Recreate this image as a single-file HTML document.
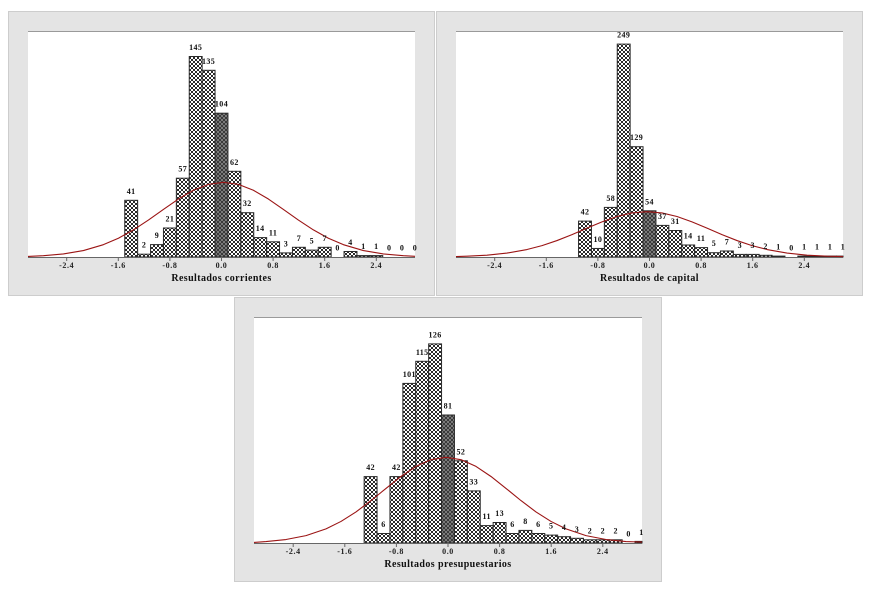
<!DOCTYPE html>
<html><head><meta charset="utf-8"><style>
html,body{margin:0;padding:0;background:#fff;}
svg{display:block;}
.lb{font-family:"Liberation Serif",serif;font-weight:bold;font-size:8px;fill:#111;text-anchor:middle;letter-spacing:0.4px;}
.tk{font-family:"Liberation Serif",serif;font-weight:bold;font-size:8px;fill:#222;text-anchor:middle;letter-spacing:0.6px;}
.ti{font-family:"Liberation Serif",serif;font-weight:bold;font-size:10px;fill:#111;text-anchor:middle;letter-spacing:0.4px;}
.b rect{fill:url(#h);stroke:#2a2a2a;stroke-width:1;}
.b rect.d{fill:url(#hd);}
.cv{fill:none;stroke:#9b1414;stroke-width:1.1;stroke-linejoin:round;}
.ax{stroke:#666;stroke-width:1;}
</style></head><body>
<svg width="876" height="591" viewBox="0 0 876 591" xmlns="http://www.w3.org/2000/svg">
<defs>
<pattern id="h" width="4" height="4" patternUnits="userSpaceOnUse">
<rect width="4" height="4" fill="#fff"/>
<rect x="0" y="0" width="1" height="1" fill="#2a2a2a"/><rect x="3" y="0" width="1" height="1" fill="#2a2a2a"/>
<rect x="1" y="1" width="2" height="2" fill="#2a2a2a"/>
<rect x="0" y="3" width="1" height="1" fill="#2a2a2a"/><rect x="3" y="3" width="1" height="1" fill="#2a2a2a"/>
</pattern>
<pattern id="hd" width="4" height="4" patternUnits="userSpaceOnUse">
<rect width="4" height="4" fill="#7a7a7a"/>
<rect x="0" y="0" width="1" height="1" fill="#3a3a3a"/><rect x="3" y="0" width="1" height="1" fill="#3a3a3a"/>
<rect x="1" y="1" width="2" height="2" fill="#3a3a3a"/>
<rect x="0" y="3" width="1" height="1" fill="#3a3a3a"/><rect x="3" y="3" width="1" height="1" fill="#3a3a3a"/>
</pattern>
</defs>

<!-- Panel 1 -->
<rect x="8.5" y="11.5" width="426" height="284" fill="#e4e4e4" stroke="#cdcdcd"/>
<rect x="28" y="31" width="387" height="226" fill="#fff"/>
<line x1="28" y1="31.5" x2="415" y2="31.5" stroke="#9a9a9a"/>
<g class="b">
<rect x="124.75" y="200.3" width="12.9" height="56.7"/>
<rect x="137.65" y="254.2" width="12.9" height="2.8"/>
<rect x="150.55" y="244.6" width="12.9" height="12.4"/>
<rect x="163.45" y="228.0" width="12.9" height="29.0"/>
<rect x="176.35" y="178.2" width="12.9" height="78.8"/>
<rect x="189.25" y="56.5" width="12.9" height="200.5"/>
<rect x="202.15" y="70.3" width="12.9" height="186.7"/>
<rect class="d" x="215.05" y="113.2" width="12.9" height="143.8"/>
<rect x="227.95" y="171.3" width="12.9" height="85.7"/>
<rect x="240.85" y="212.7" width="12.9" height="44.3"/>
<rect x="253.75" y="237.6" width="12.9" height="19.4"/>
<rect x="266.65" y="241.8" width="12.9" height="15.2"/>
<rect x="279.55" y="252.9" width="12.9" height="4.1"/>
<rect x="292.45" y="247.3" width="12.9" height="9.7"/>
<rect x="305.35" y="250.1" width="12.9" height="6.9"/>
<rect x="318.25" y="247.3" width="12.9" height="9.7"/>
<rect x="344.05" y="251.5" width="12.9" height="5.5"/>
<rect x="356.95" y="255.6" width="12.9" height="1.4"/>
<rect x="369.85" y="255.6" width="12.9" height="1.4"/>
</g>
<line class="ax" x1="28" y1="257.5" x2="415" y2="257.5"/>
<g class="ax">
<line x1="66.7" y1="257" x2="66.7" y2="261"/><line x1="118.3" y1="257" x2="118.3" y2="261"/>
<line x1="169.9" y1="257" x2="169.9" y2="261"/><line x1="221.5" y1="257" x2="221.5" y2="261"/>
<line x1="273.1" y1="257" x2="273.1" y2="261"/><line x1="324.7" y1="257" x2="324.7" y2="261"/>
<line x1="376.3" y1="257" x2="376.3" y2="261"/>
</g>
<polyline class="cv" points="28,256.4 43.4,255.71 63.4,253.97 83.4,250.58 103.4,244.68 118.4,238.21 133.4,229.9 148.4,220.06 163.4,209.4 178.4,199.03 193.4,190.26 208.4,184.38 223.4,182.3 238.4,184.38 253.4,190.26 268.4,199.03 283.4,209.4 298.4,220.06 313.4,229.9 328.4,238.21 343.4,244.68 363.4,250.58 383.4,253.97 403.4,255.71 415,256.3"/>
<g>
<text class="lb" x="131.2" y="193.8">41</text>
<text class="lb" x="144.1" y="247.7">2</text>
<text class="lb" x="157.0" y="238.1">9</text>
<text class="lb" x="169.9" y="221.5">21</text>
<text class="lb" x="182.8" y="171.7">57</text>
<text class="lb" x="195.7" y="50">145</text>
<text class="lb" x="208.6" y="63.8">135</text>
<text class="lb" x="221.5" y="106.7">104</text>
<text class="lb" x="234.4" y="164.8">62</text>
<text class="lb" x="247.3" y="206.2">32</text>
<text class="lb" x="260.2" y="231.1">14</text>
<text class="lb" x="273.1" y="235.3">11</text>
<text class="lb" x="286.0" y="246.4">3</text>
<text class="lb" x="298.9" y="240.8">7</text>
<text class="lb" x="311.8" y="243.6">5</text>
<text class="lb" x="324.7" y="240.8">7</text>
<text class="lb" x="337.6" y="250.5">0</text>
<text class="lb" x="350.5" y="245">4</text>
<text class="lb" x="363.4" y="249.1">1</text>
<text class="lb" x="376.3" y="249.1">1</text>
<text class="lb" x="389.2" y="250.5">0</text>
<text class="lb" x="402.1" y="250.5">0</text>
<text class="lb" x="415.0" y="250.5">0</text>
</g>
<g>
<text class="tk" x="66.7" y="268">-2.4</text>
<text class="tk" x="118.3" y="268">-1.6</text>
<text class="tk" x="169.9" y="268">-0.8</text>
<text class="tk" x="221.5" y="268">0.0</text>
<text class="tk" x="273.1" y="268">0.8</text>
<text class="tk" x="324.7" y="268">1.6</text>
<text class="tk" x="376.3" y="268">2.4</text>
</g>
<text class="ti" x="221.5" y="281">Resultados corrientes</text>

<!-- Panel 2 -->
<rect x="436.5" y="11.5" width="426" height="284" fill="#e4e4e4" stroke="#cdcdcd"/>
<rect x="456" y="31" width="387" height="226" fill="#fff"/>
<line x1="456" y1="31.5" x2="843" y2="31.5" stroke="#9a9a9a"/>
<g class="b">
<rect x="578.55" y="221.1" width="12.9" height="35.9"/>
<rect x="591.45" y="248.45" width="12.9" height="8.55"/>
<rect x="604.35" y="207.4" width="12.9" height="49.6"/>
<rect x="617.25" y="44.1" width="12.9" height="212.9"/>
<rect x="630.15" y="146.7" width="12.9" height="110.3"/>
<rect class="d" x="643.05" y="210.8" width="12.9" height="46.2"/>
<rect x="655.95" y="225.4" width="12.9" height="31.6"/>
<rect x="668.85" y="230.5" width="12.9" height="26.5"/>
<rect x="681.75" y="245" width="12.9" height="12"/>
<rect x="694.65" y="247.6" width="12.9" height="9.4"/>
<rect x="707.55" y="252.7" width="12.9" height="4.3"/>
<rect x="720.45" y="251" width="12.9" height="6"/>
<rect x="733.35" y="254.4" width="12.9" height="2.6"/>
<rect x="746.25" y="254.4" width="12.9" height="2.6"/>
<rect x="759.15" y="255.3" width="12.9" height="1.7"/>
<rect x="772.05" y="256.1" width="12.9" height="0.9"/>
<rect x="797.85" y="256.1" width="12.9" height="0.9"/>
<rect x="810.75" y="256.1" width="12.9" height="0.9"/>
<rect x="823.65" y="256.1" width="12.9" height="0.9"/>
<rect x="836.55" y="256.1" width="6.45" height="0.9"/>
</g>
<line class="ax" x1="456" y1="257.5" x2="843" y2="257.5"/>
<g class="ax">
<line x1="494.7" y1="257" x2="494.7" y2="261"/><line x1="546.3" y1="257" x2="546.3" y2="261"/>
<line x1="597.9" y1="257" x2="597.9" y2="261"/><line x1="649.5" y1="257" x2="649.5" y2="261"/>
<line x1="701.1" y1="257" x2="701.1" y2="261"/><line x1="752.7" y1="257" x2="752.7" y2="261"/>
<line x1="804.3" y1="257" x2="804.3" y2="261"/>
</g>
<polyline class="cv" points="456,256.6 467,256.22 487,255.16 507,253.1 527,249.53 542,245.6 557,240.57 572,234.6 587,228.13 602,221.84 617,216.52 632,212.96 647,211.7 662,212.96 677,216.52 692,221.84 707,228.13 722,234.6 737,240.57 752,245.6 767,249.53 787,253.1 807,255.16 827,256.22 843,256.6"/>
<g>
<text class="lb" x="585.0" y="214.6">42</text>
<text class="lb" x="597.9" y="242">10</text>
<text class="lb" x="610.8" y="200.9">58</text>
<text class="lb" x="623.7" y="37.6">249</text>
<text class="lb" x="636.6" y="140.2">129</text>
<text class="lb" x="649.5" y="204.3">54</text>
<text class="lb" x="662.4" y="218.9">37</text>
<text class="lb" x="675.3" y="224">31</text>
<text class="lb" x="688.2" y="238.5">14</text>
<text class="lb" x="701.1" y="241.1">11</text>
<text class="lb" x="714.0" y="246.2">5</text>
<text class="lb" x="726.9" y="244.5">7</text>
<text class="lb" x="739.8" y="247.9">3</text>
<text class="lb" x="752.7" y="247.9">3</text>
<text class="lb" x="765.6" y="248.8">2</text>
<text class="lb" x="778.5" y="249.6">1</text>
<text class="lb" x="791.4" y="250.5">0</text>
<text class="lb" x="804.3" y="249.6">1</text>
<text class="lb" x="817.2" y="249.6">1</text>
<text class="lb" x="830.1" y="249.6">1</text>
<text class="lb" x="843.0" y="249.6">1</text>
</g>
<g>
<text class="tk" x="494.7" y="268">-2.4</text>
<text class="tk" x="546.3" y="268">-1.6</text>
<text class="tk" x="597.9" y="268">-0.8</text>
<text class="tk" x="649.5" y="268">0.0</text>
<text class="tk" x="701.1" y="268">0.8</text>
<text class="tk" x="752.7" y="268">1.6</text>
<text class="tk" x="804.3" y="268">2.4</text>
</g>
<text class="ti" x="649.5" y="281">Resultados de capital</text>

<!-- Panel 3 -->
<rect x="234.5" y="297.5" width="427" height="284" fill="#e4e4e4" stroke="#cdcdcd"/>
<rect x="254" y="317" width="388" height="226" fill="#fff"/>
<line x1="254" y1="317.5" x2="642" y2="317.5" stroke="#9a9a9a"/>
<g class="b">
<rect x="364.15" y="476.6" width="12.9" height="66.4"/>
<rect x="377.05" y="533.5" width="12.9" height="9.5"/>
<rect x="389.95" y="476.6" width="12.9" height="66.4"/>
<rect x="402.85" y="383.4" width="12.9" height="159.6"/>
<rect x="415.75" y="361.3" width="12.9" height="181.7"/>
<rect x="428.65" y="343.9" width="12.9" height="199.1"/>
<rect class="d" x="441.55" y="415" width="12.9" height="128"/>
<rect x="454.45" y="460.8" width="12.9" height="82.2"/>
<rect x="467.35" y="490.9" width="12.9" height="52.1"/>
<rect x="480.25" y="525.6" width="12.9" height="17.4"/>
<rect x="493.15" y="522.5" width="12.9" height="20.5"/>
<rect x="506.05" y="533.5" width="12.9" height="9.5"/>
<rect x="518.95" y="530.4" width="12.9" height="12.6"/>
<rect x="531.85" y="533.5" width="12.9" height="9.5"/>
<rect x="544.75" y="535.1" width="12.9" height="7.9"/>
<rect x="557.65" y="536.7" width="12.9" height="6.3"/>
<rect x="570.55" y="538.3" width="12.9" height="4.7"/>
<rect x="583.45" y="539.8" width="12.9" height="3.2"/>
<rect x="596.35" y="539.8" width="12.9" height="3.2"/>
<rect x="609.25" y="539.8" width="12.9" height="3.2"/>
<rect x="635.05" y="541.4" width="6.95" height="1.6"/>
</g>
<line class="ax" x1="254" y1="543.5" x2="642" y2="543.5"/>
<g class="ax">
<line x1="293.2" y1="543" x2="293.2" y2="547"/><line x1="344.8" y1="543" x2="344.8" y2="547"/>
<line x1="396.4" y1="543" x2="396.4" y2="547"/><line x1="448" y1="543" x2="448" y2="547"/>
<line x1="499.6" y1="543" x2="499.6" y2="547"/><line x1="551.2" y1="543" x2="551.2" y2="547"/>
<line x1="602.8" y1="543" x2="602.8" y2="547"/>
</g>
<polyline class="cv" points="254,542.4 266,541.52 286,539.52 306,535.63 326,528.87 341,521.44 356,511.91 371,500.62 386,488.39 401,476.49 416,466.43 431,459.68 446,457.3 461,459.68 476,466.43 491,476.49 506,488.39 521,500.62 536,511.91 551,521.44 566,528.87 586,535.63 606,539.52 626,541.52 642,542.1"/>
<g>
<text class="lb" x="370.6" y="470.1">42</text>
<text class="lb" x="383.5" y="527">6</text>
<text class="lb" x="396.4" y="470.1">42</text>
<text class="lb" x="409.3" y="376.9">101</text>
<text class="lb" x="422.2" y="354.8">115</text>
<text class="lb" x="435.1" y="337.4">126</text>
<text class="lb" x="448.0" y="408.5">81</text>
<text class="lb" x="460.9" y="454.3">52</text>
<text class="lb" x="473.8" y="484.4">33</text>
<text class="lb" x="486.7" y="519.1">11</text>
<text class="lb" x="499.6" y="516">13</text>
<text class="lb" x="512.5" y="527">6</text>
<text class="lb" x="525.4" y="523.9">8</text>
<text class="lb" x="538.3" y="527">6</text>
<text class="lb" x="551.2" y="528.6">5</text>
<text class="lb" x="564.1" y="530.2">4</text>
<text class="lb" x="577.0" y="531.8">3</text>
<text class="lb" x="589.9" y="533.3">2</text>
<text class="lb" x="602.8" y="533.3">2</text>
<text class="lb" x="615.7" y="533.3">2</text>
<text class="lb" x="628.6" y="536.5">0</text>
<text class="lb" x="641.5" y="534.9">1</text>
</g>
<g>
<text class="tk" x="293.2" y="554">-2.4</text>
<text class="tk" x="344.8" y="554">-1.6</text>
<text class="tk" x="396.4" y="554">-0.8</text>
<text class="tk" x="448" y="554">0.0</text>
<text class="tk" x="499.6" y="554">0.8</text>
<text class="tk" x="551.2" y="554">1.6</text>
<text class="tk" x="602.8" y="554">2.4</text>
</g>
<text class="ti" x="448" y="567">Resultados presupuestarios</text>
</svg>
</body></html>
